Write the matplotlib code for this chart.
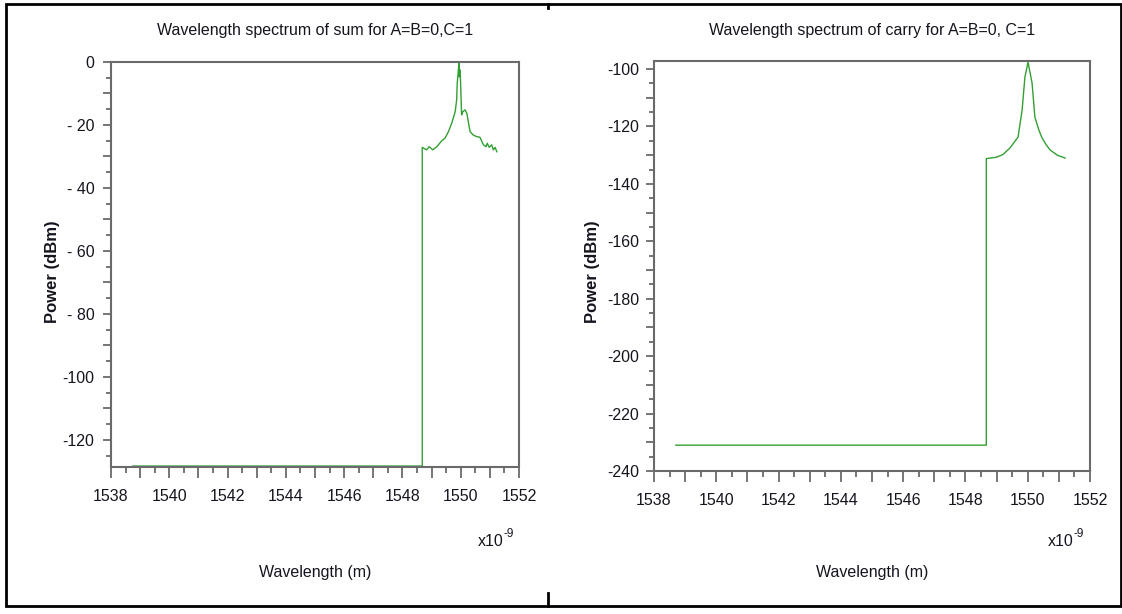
import matplotlib
matplotlib.use("Agg")
import matplotlib.pyplot as plt
from matplotlib.patches import Rectangle
from matplotlib.lines import Line2D
from matplotlib.ticker import MultipleLocator, FuncFormatter

plt.rcParams["font.family"] = ["Liberation Sans Narrow", "Liberation Sans", "DejaVu Sans"]

# sum spectrum (A=B=0, C=1)
wl_sum = [1538.75, 1548.68, 1548.68, 1548.83, 1548.92, 1549.04, 1549.18, 1549.35,
          1549.46, 1549.58, 1549.69, 1549.81, 1549.86, 1549.88, 1549.92, 1549.94,
          1549.95, 1549.98, 1550.0, 1550.03, 1550.07, 1550.15, 1550.21, 1550.26,
          1550.32, 1550.43, 1550.55, 1550.66, 1550.78, 1550.87, 1550.91, 1550.98,
          1551.06, 1551.12, 1551.18, 1551.24]
p_sum = [-128.3, -128.3, -27.1, -27.9, -26.9, -27.9, -26.9, -25.0,
         -24.2, -22.1, -19.5, -15.8, -12.1, -6.8, -2.5, -0.2,
         -4.7, -2.5, -7.8, -16.8, -15.8, -15.2, -16.3, -18.9,
         -22.1, -23.2, -23.7, -23.9, -26.3, -26.9, -25.8, -27.1,
         -26.3, -27.9, -27.1, -28.5]

# carry spectrum
wl_carry = [1538.7, 1548.67, 1548.67, 1549.0, 1549.2, 1549.43, 1549.6, 1549.69,
            1549.82, 1549.91, 1550.01, 1550.14, 1550.23, 1550.35, 1550.46,
            1550.6, 1550.72, 1550.95, 1551.2]
p_carry = [-231.0, -231.0, -131.2, -130.7, -129.8, -127.5, -125.0, -123.7,
           -114.3, -102.8, -97.6, -104.9, -116.7, -121.0, -124.0,
           -126.5, -128.2, -130.0, -131.0]

titles = ["Wavelength spectrum of sum for A=B=0,C=1",
          "Wavelength spectrum of carry for A=B=0, C=1"]
ylims = [(-128.6, 0), (-240, -97.2)]

W, H = 1122, 614
fig = plt.figure(figsize=(W / 100, H / 100), dpi=100)


def fx(px):
    return px / W


def fy(py):
    return 1 - py / H


boxes = [(111, 62, 519, 467), (654, 61, 1090, 471)]
series = [(wl_sum, p_sum), (wl_carry, p_carry)]
ylab_x = [52, 593]
xexp_x = [504, 1074]
ypads = [6, 4.5]

spine_c = "#6a6a6a"
txt_c = "#15151f"


def xfmt(v, pos):
    iv = int(round(v))
    return str(iv) if iv % 2 == 0 else ""


def yfmt(v, pos):
    iv = int(round(v))
    if iv % 20 != 0:
        return ""
    if iv == 0:
        return "0"
    if abs(iv) < 100:
        return f"- {abs(iv)}"
    return f"-{abs(iv)}"


for i in range(2):
    x0, y0, x1, y1 = boxes[i]
    ax = fig.add_axes([fx(x0), fy(y1), fx(x1 - x0), (y1 - y0) / H])
    wl, p = series[i]
    ax.plot(wl, p, color="#33a033", lw=1.0)
    ax.set_xlim(1538, 1552)
    ax.set_ylim(*ylims[i])

    ax.xaxis.set_major_locator(MultipleLocator(1))
    ax.xaxis.set_minor_locator(MultipleLocator(0.5))
    ax.xaxis.set_major_formatter(FuncFormatter(xfmt))
    ax.yaxis.set_major_locator(MultipleLocator(10))
    ax.yaxis.set_minor_locator(MultipleLocator(5))
    ax.yaxis.set_major_formatter(FuncFormatter(yfmt))

    ax.tick_params(axis="x", which="major", length=8, width=1.3, pad=8,
                   color=spine_c, labelsize=11.5, labelcolor=txt_c)
    ax.tick_params(axis="x", which="minor", length=4.5, width=1.3, color=spine_c)
    ax.tick_params(axis="y", which="major", length=6, width=1.3, pad=ypads[i],
                   color=spine_c, labelsize=11.5, labelcolor=txt_c)
    ax.tick_params(axis="y", which="minor", length=3.5, width=1.3, color=spine_c)
    for s in ax.spines.values():
        s.set_color(spine_c)
        s.set_linewidth(1.5)

    cx = fx((x0 + x1) / 2)
    fig.text(cx, fy(30), titles[i], ha="center", va="center", fontsize=11.5,
             color=txt_c)
    fig.text(cx, fy(573), "Wavelength (m)", ha="center", va="center",
             fontsize=11.5, color=txt_c)
    fig.text(fx(ylab_x[i]), fy(272), "Power (dBm)", ha="center", va="center",
             rotation=90, fontsize=12, fontweight="bold", color=txt_c)
    ex = xexp_x[i]
    fig.text(fx(ex), fy(541), "x10", ha="right", va="center",
             fontsize=11.5, color=txt_c)
    fig.text(fx(ex - 1), fy(534), "-9", ha="left", va="center",
             fontsize=8.5, color=txt_c)

# outer frame and divider marks
fig.patches.append(Rectangle((fx(6), fy(606)), fx(1115), (606 - 4) / H,
                             transform=fig.transFigure, fill=False,
                             edgecolor="black", lw=2))
fig.lines.append(Line2D([fx(548), fx(548)], [fy(4), fy(8)],
                        transform=fig.transFigure, color="black", lw=2))
fig.lines.append(Line2D([fx(548), fx(548)], [fy(593), fy(606)],
                        transform=fig.transFigure, color="black", lw=2))

fig.savefig("out.png", dpi=100)
